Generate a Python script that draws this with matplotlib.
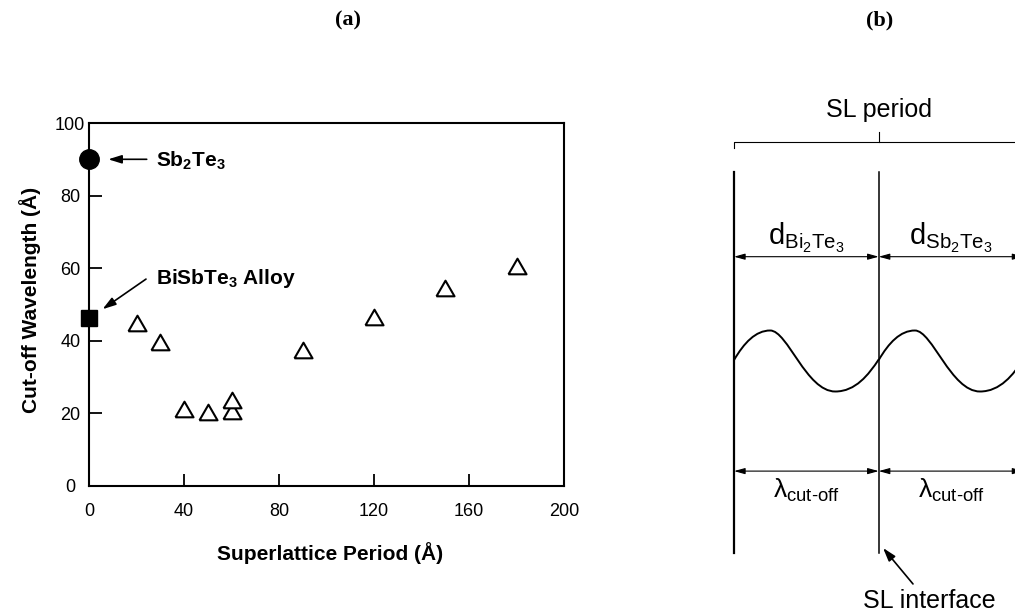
import matplotlib
matplotlib.use("Agg")
import matplotlib.pyplot as plt
from matplotlib.path import Path
from matplotlib.patches import PathPatch, FancyArrowPatch

plt.rcParams['font.family'] = 'Liberation Sans'
plt.rcParams['mathtext.fontset'] = 'custom'
plt.rcParams['mathtext.rm'] = 'Liberation Sans'
plt.rcParams['mathtext.it'] = 'Liberation Sans:italic'
plt.rcParams['mathtext.bf'] = 'Liberation Sans:bold'

# ---- panel (a) data ----
sl_period = [20, 30, 40, 50, 60, 60, 90, 120, 150, 180]
cutoff_wavelength = [45.0, 39.8, 21.2, 20.4, 20.6, 23.8, 37.5, 46.5, 54.5, 60.5]
sb2te3_point = (0, 90)
alloy_point = (0, 46.3)
x_ticks = [0, 40, 80, 120, 160, 200]
y_ticks = [0, 20, 40, 60, 80, 100]

# ---- panel (b) schematic: one wave period in layer units (bezier control points) ----
wave_u = [0.0, 0.07, 0.15, 0.25, 0.37, 0.50, 0.70, 0.84, 0.93, 1.0]
wave_v = [0.03, 0.6, 1.0, 1.0, 1.0, -1.0, -1.0, -1.0, -0.45, 0.05]
layer_edges = [0, 1]
layer_labels = [r'$\mathregular{d_{Bi_2Te_3}}$', r'$\mathregular{d_{Sb_2Te_3}}$']

fig = plt.figure(figsize=(10.15, 6.16), dpi=100)

# ================= (a) =================
ax = fig.add_axes([89 / 1015, 1 - 486 / 616, 475 / 1015, 363 / 616])
ax.set_xlim(0, 200)
ax.set_ylim(0, 100)

# equilateral-ish open triangle
tri = [(-1, -0.866), (1, -0.866), (0, 0.866), (-1, -0.866)]
ax.plot(sl_period, cutoff_wavelength, linestyle='none', marker=tri, markersize=13,
        markerfacecolor='white', markeredgecolor='black', markeredgewidth=1.5, clip_on=False)
ax.plot(*sb2te3_point, marker='o', markersize=14, color='black', clip_on=False, zorder=5)
ax.plot(*alloy_point, marker='s', markersize=11, color='black', clip_on=False, zorder=5)

ax.annotate('', xy=(8.1, 90), xytext=(24.3, 90),
            arrowprops=dict(arrowstyle='-|>,head_length=0.8,head_width=0.25', lw=1.2,
                            color='black', shrinkA=0, shrinkB=0, mutation_scale=10))
ax.text(28, 89.5, r'$\mathbf{Sb_2Te_3}$', fontsize=15, fontweight='bold', va='center', ha='left')

ax.annotate('', xy=(5.7, 48.7), xytext=(24, 57.0),
            arrowprops=dict(arrowstyle='-|>,head_length=0.8,head_width=0.25', lw=1.2,
                            color='black', shrinkA=0, shrinkB=0, mutation_scale=10))
ax.text(28, 57.3, r'$\mathbf{BiSbTe_3}$ Alloy', fontsize=15, fontweight='bold', va='center', ha='left')

ax.set_xticks(x_ticks)
ax.set_yticks(y_ticks)
ax.tick_params(direction='in', length=9, width=1.3, labelsize=13)
ax.tick_params(axis='x', pad=12)
ax.tick_params(axis='y', pad=13.5)
for lab in ax.get_yticklabels():
    lab.set_ha('center')
for sp in ax.spines.values():
    sp.set_linewidth(1.5)

ax.set_xlabel('Superlattice Period (Å)', fontsize=15, fontweight='bold')
ax.xaxis.set_label_coords(0.507, -0.185)
ax.xaxis.label.set_va('center')
ax.set_ylabel('Cut-off Wavelength (Å)', fontsize=15, fontweight='bold')
ax.yaxis.set_label_coords(-0.124, 0.512)
ax.yaxis.label.set_va('center')

# ================= (b) =================
bx = fig.add_axes([720 / 1015, 0, 295 / 1015, 1])
bx.set_xlim(-14 / 144.7, 281 / 144.7)
bx.set_ylim((361 - 616) / 30.5, 361 / 30.5)
bx.axis('off')

# layer boundaries
bx.plot([0, 0], [6.21, -6.30], color='black', lw=1.6)
bx.plot([1, 1], [6.21, -6.30], color='black', lw=1.1)

# SL period bracket
bx.plot([0, 0, 2.2], [6.98, 7.19, 7.19], color='black', lw=0.8)
bx.plot([1, 1], [7.19, 7.52], color='black', lw=0.8)
bx.text(1, 8.23, 'SL period', fontsize=18, ha='center', va='center')

# wave, one period per layer
codes = [Path.MOVETO] + [Path.CURVE4] * 9
for edge in [0, 1]:
    verts = [(edge + u, v) for u, v in zip(wave_u, wave_v)]
    bx.add_patch(PathPatch(Path(verts, codes), facecolor='none', edgecolor='black', lw=1.4))


def dim_arrow(x0, x1, y):
    a = FancyArrowPatch((x0, y), (x1, y), arrowstyle='<|-|>,head_length=0.65,head_width=0.18',
                        mutation_scale=10, lw=0.8, color='black', shrinkA=0, shrinkB=0)
    bx.add_patch(a)


for edge, lab in zip(layer_edges, layer_labels):
    dim_arrow(edge, edge + 1, 3.42)
    bx.text(edge + 0.5, 3.80, lab, fontsize=21, ha='center', va='baseline')
    dim_arrow(edge, edge + 1, -3.61)
    bx.text(edge + 0.5, -4.49, r'$\mathregular{\lambda_{\text{cut-off}}}$', fontsize=19,
            ha='center', va='baseline')

bx.annotate('', xy=(1.03, -6.13), xytext=(1.237, -7.31),
            arrowprops=dict(arrowstyle='-|>,head_length=0.8,head_width=0.25', lw=1.2,
                            color='black', shrinkA=0, shrinkB=0, mutation_scale=10))
bx.text(1.348, -7.87, 'SL interface', fontsize=18, ha='center', va='center')

# panel labels
fig.text(348 / 1015, 1 - 20 / 616, '(a)', family='Liberation Serif', fontweight='bold',
         fontsize=16, ha='center', va='center')
fig.text(880 / 1015, 1 - 20 / 616, '(b)', family='Liberation Serif', fontweight='bold',
         fontsize=16, ha='center', va='center')

fig.savefig('out.png', dpi=100)
